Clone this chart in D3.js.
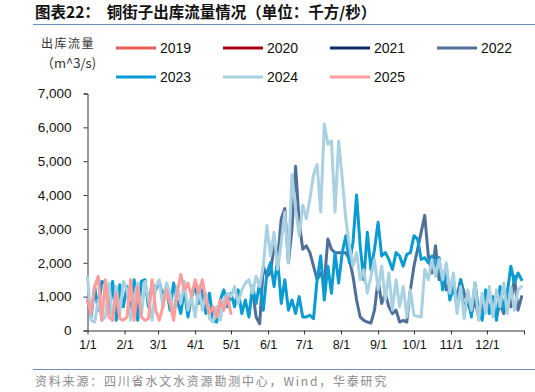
<!DOCTYPE html>
<html>
<head>
<meta charset="utf-8">
<script src="https://cdn.jsdelivr.net/npm/d3@7"></script>
<style>
  html, body { margin: 0; padding: 0; background: #fff; }
  svg { display: block; }
</style>
</head>
<body>
<svg id="chart" width="535" height="392"></svg>
<script>
// ---------------- data ----------------
const years = ["2019", "2020", "2021", "2022", "2023", "2024", "2025"];
const seriesColors = ["#e75e5a", "#a50010", "#0b2e6b", "#506f98", "#0a9bd2", "#a9d1e1", "#ff9c9c"];
// first day-of-year of each series, values every STEP days
const startDays = [0, 0, 0, 138, 0, 0, 0];
const STEP = 3;

const v2019 = [];
const v2020 = [];
const v2021 = [];
const v2022 = [
  1200, 400, 200, 1900, 1600,
  1700, 2500, 2100, 3300, 3600, 2000, 3000, 4850, 3200, 2400,
  2500, 2300, 1900, 1500, 1700, 1400, 2700, 2400, 2300, 2300,
  2300, 2300, 2100, 1600, 900, 400, 300, 250, 220, 600,
  1500, 800, 1100, 700, 500, 600, 250, 300, 250, 1200,
  1900, 2400, 2900, 3400, 2200, 1700, 2500, 1500, 1700, 1200, 1400,
  1300, 1000, 1500, 1100, 800, 500, 900, 400, 700, 1000,
  600, 900, 400, 800, 500, 1000, 700, 1600, 600, 1000
];
const v2023 = [
  900, 400, 1300, 600, 1450, 1400, 500, 1450, 300, 1350, 700,
  1300, 400, 1500, 300, 1450, 1500, 700, 1400, 1200,
  1450, 1000, 1300, 600, 1400, 900, 500, 1200, 400, 1000, 1300,
  800, 1200, 500, 1100, 300, 250, 900, 1200, 700,
  1100, 700, 1200, 500, 900, 400, 1300, 800, 1400, 600, 1700,
  2000, 1300, 2100, 800, 1500, 600, 900, 500, 1000, 400,
  400, 450, 350, 1500, 2200, 900, 1900, 1100, 2300, 1400,
  2300, 2800, 2000, 2600, 4000, 2500, 1500, 2900, 1800, 2400,
  3200, 2200, 2300, 2100, 1800, 2300, 2200, 1900, 2250, 2300,
  2800, 2700, 2100, 2150, 2000, 2200, 1900, 2150, 1200, 1900, 900,
  1300, 700, 1500, 500, 1100, 400, 1400, 600, 300, 1200,
  500, 1000, 300, 1300, 600, 1100, 1900, 1400, 1700, 1500
];
const v2024 = [
  1580, 300, 250, 900, 300, 400, 1400, 300, 1300, 500, 1450,
  1200, 300, 1000, 1400, 400, 1450, 900, 300, 1300,
  1500, 700, 1400, 1100, 500, 1300, 800, 1450, 600, 1000, 400,
  1300, 600, 1100, 350, 250, 700, 300, 900, 1100,
  1000, 1300, 800, 1200, 1400, 1500, 1100, 1600, 1300, 1900, 3100,
  2200, 2900, 1800, 2600, 3500, 2000, 4600, 3600, 2800, 3700,
  3300, 3900, 4600, 4900, 3500, 6100, 5500, 5600, 3500, 5600,
  4500, 3300, 2500, 1900, 2300, 1500, 1800, 1100, 1600, 2100,
  1200, 1900, 900, 1700, 600, 1500, 700, 1300, 400, 1200,
  450, 420, 400, 1800, 1500, 2100, 1600, 2100, 1500, 2000, 1100,
  1700, 500, 1300, 350, 1200, 600, 1400, 300, 1100, 500,
  1300, 400, 1200, 700, 1400, 500, 1300, 600, 1200, 1300
];
const v2025 = [
  900, 500, 1300, 1600, 300, 1500, 400, 300, 1100, 350, 300,
  400, 1500, 300, 1300, 400, 300, 350, 1500, 600, 300,
  700, 1200, 800, 300, 1100, 1650, 1200, 1400, 1000, 1500,
  1100, 1500, 900, 500, 700, 400, 900, 600, 1000, 500
];
const seriesValues = [v2019, v2020, v2021, v2022, v2023, v2024, v2025];

const yTicks = [0, 1000, 2000, 3000, 4000, 5000, 6000, 7000];
const xTickLabels = ["1/1", "2/1", "3/1", "4/1", "5/1", "6/1", "7/1", "8/1", "9/1", "10/1", "11/1", "12/1", ""];

const titleText = "图表22：  铜街子出库流量情况（单位：千方/秒）";
const sourceText = "资料来源：四川省水文水资源勘测中心，Wind，华泰研究";
const yLabel1 = "出库流量";
const yLabel2 = "（m^3/s)";

// ---------------- drawing ----------------
const svg = d3.select("#chart");
const latin = "'Liberation Sans', Arial, 'Noto Sans CJK SC', sans-serif";
const cjk = "'Noto Sans CJK SC', 'Liberation Sans', sans-serif";

const baseDate = Date.UTC(2023, 0, 1);
const DAY = 86400000;
const x = d3.scaleUtc()
  .domain([new Date(Date.UTC(2023, 0, 1)), new Date(Date.UTC(2024, 0, 1))])
  .range([87.5, 524]);
const y = d3.scaleLinear().domain([0, 7000]).range([330.5, 93.5]);

// title
svg.append("text")
  .attr("x", 35).attr("y", 18)
  .attr("font-family", cjk).attr("font-weight", "bold")
  .attr("font-size", 15.5).attr("fill", "#111")
  .style("white-space", "pre")
  .text(titleText);

svg.append("line")
  .attr("x1", 33).attr("x2", 535).attr("y1", 24.5).attr("y2", 24.5)
  .attr("stroke", "#6a8fbd").attr("stroke-width", 1);

svg.append("line")
  .attr("x1", 33).attr("x2", 535).attr("y1", 369.5).attr("y2", 369.5)
  .attr("stroke", "#6a8fbd").attr("stroke-width", 1);

svg.append("text")
  .attr("x", 35).attr("y", 386)
  .attr("font-family", cjk).attr("font-size", 12)
  .attr("letter-spacing", 1.8)
  .attr("fill", "#8a8a8a")
  .text(sourceText);

// y label
svg.append("text")
  .attr("x", 41).attr("y", 48)
  .attr("font-family", cjk).attr("font-size", 12)
  .attr("letter-spacing", 1.5)
  .attr("fill", "#333")
  .text(yLabel1);
svg.append("text")
  .attr("x", 41).attr("y", 68)
  .attr("font-family", cjk).attr("font-size", 13)
  .attr("fill", "#333")
  .text(yLabel2);

// legend
const legendPos = years.map((d, i) => ({
  x: 116 + (i % 4) * 107,
  y: 48 + Math.floor(i / 4) * 29
}));
const leg = svg.append("g").selectAll("g").data(years).join("g")
  .attr("transform", (d, i) => `translate(${legendPos[i].x},${legendPos[i].y})`);
leg.append("line")
  .attr("x1", 0).attr("x2", 40).attr("y1", 0).attr("y2", 0)
  .attr("stroke", (d, i) => seriesColors[i]).attr("stroke-width", 3);
leg.append("text")
  .attr("x", 44).attr("y", 5)
  .attr("font-family", latin).attr("font-size", 14)
  .attr("fill", "#111")
  .text(d => d);

// axes
const yAxis = d3.axisLeft(y).tickValues(yTicks).tickSize(4).tickPadding(12)
  .tickFormat(d3.format(","));
const gy = svg.append("g").attr("transform", "translate(87.5,0)").call(yAxis);
gy.selectAll("text").attr("font-family", latin).attr("font-size", 13.5).attr("fill", "#111");
gy.selectAll("line, path").attr("stroke", "#333");

const monthTicks = d3.utcMonth.range(new Date(Date.UTC(2023, 0, 1)), new Date(Date.UTC(2024, 0, 2)));
const xAxis = d3.axisBottom(x).tickValues(monthTicks).tickSize(4).tickSizeOuter(0).tickPadding(6)
  .tickFormat((d, i) => xTickLabels[i]);
const gx = svg.append("g").attr("transform", "translate(0,330.5)").call(xAxis);
gx.selectAll("text").attr("font-family", latin).attr("font-size", 12.5).attr("fill", "#111");
gx.selectAll("line, path").attr("stroke", "#333");

// series
const line = d3.line()
  .x(d => x(new Date(baseDate + d.day * DAY)))
  .y(d => y(d.v));
const plot = svg.append("g");
seriesValues.forEach((vals, si) => {
  const pts = vals.map((v, i) => ({ day: startDays[si] + i * STEP, v }));
  if (!pts.length) return;
  plot.append("path")
    .datum(pts)
    .attr("d", line)
    .attr("fill", "none")
    .attr("stroke", seriesColors[si])
    .attr("stroke-width", 3)
    .attr("stroke-linejoin", "round")
    .attr("stroke-linecap", "round");
});
</script>
</body>
</html>
